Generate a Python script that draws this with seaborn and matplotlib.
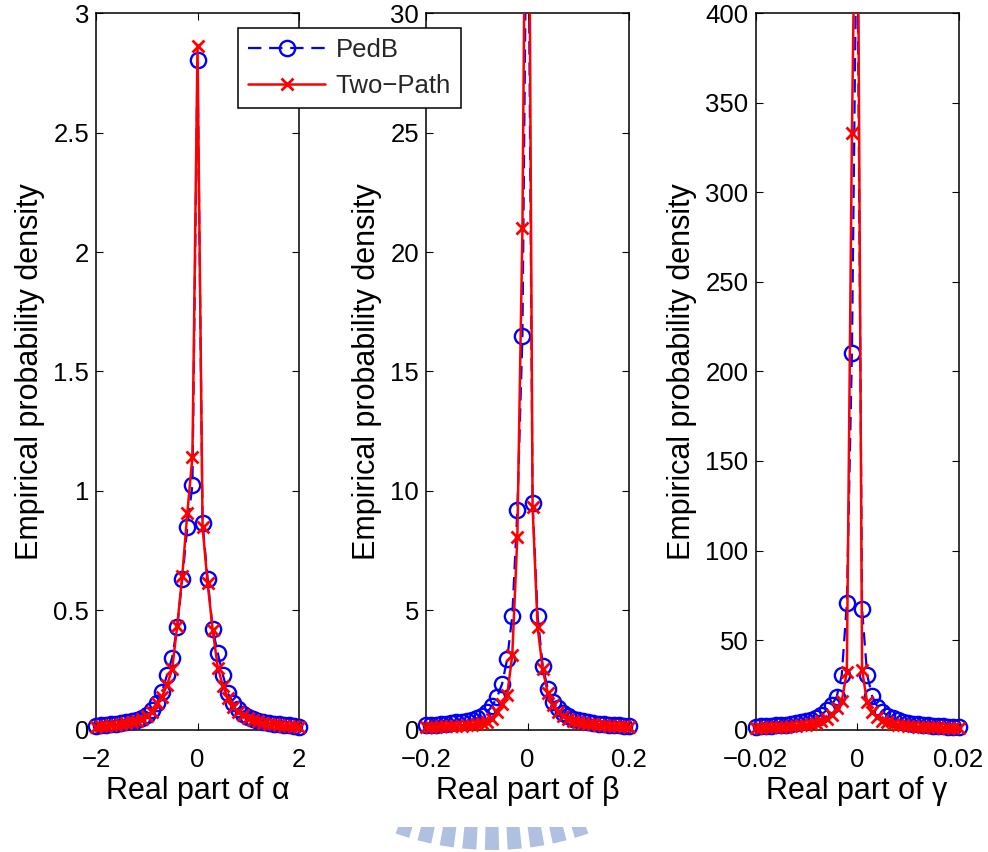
import numpy as np
import pandas as pd
import matplotlib
matplotlib.use("Agg")
import matplotlib.pyplot as plt
from matplotlib.patches import Polygon, Rectangle
from matplotlib.lines import Line2D
from matplotlib.ticker import FuncFormatter, FixedLocator
import seaborn as sns

sns.set_theme(style="white")
plt.rcParams["font.family"] = ["Liberation Sans", "DejaVu Sans"]
plt.rcParams["axes.unicode_minus"] = True

# Histogram bin centres for the three coefficients
alpha_bins = np.linspace(-2.0, 2.0, 41)
beta_bins = np.linspace(-0.2, 0.2, 41)
gamma_bins = np.linspace(-0.02, 0.02, 41)

# Empirical densities, PedB channel
pedb_alpha = [0.016, 0.018, 0.020, 0.022, 0.025, 0.028, 0.032, 0.036, 0.042, 0.050,
              0.062, 0.080, 0.110, 0.159, 0.229, 0.301, 0.431, 0.630, 0.850, 1.025,
              2.805,
              0.864, 0.631, 0.420, 0.320, 0.229, 0.152, 0.110, 0.085, 0.066, 0.053,
              0.044, 0.037, 0.032, 0.028, 0.025, 0.022, 0.020, 0.018, 0.015, 0.010]
pedb_beta = [0.18, 0.20, 0.21, 0.23, 0.25, 0.27, 0.30, 0.33, 0.37, 0.42,
             0.48, 0.58, 0.72, 0.98, 1.36, 1.92, 2.96, 4.76, 9.20, 16.5,
             40.0,
             9.48, 4.76, 2.66, 1.70, 1.17, 0.89, 0.68, 0.55, 0.46, 0.40,
             0.35, 0.31, 0.28, 0.25, 0.23, 0.21, 0.19, 0.18, 0.17, 0.16]
pedb_gamma = [1.6, 1.8, 1.9, 2.1, 2.3, 2.5, 2.8, 3.1, 3.5, 4.0,
              4.6, 5.4, 6.5, 8.2, 10.9, 13.7, 18.4, 30.5, 70.5, 210.5,
              475.0,
              67.2, 30.5, 18.6, 12.8, 10.0, 7.8, 6.3, 5.2, 4.4, 3.8,
              3.3, 2.9, 2.6, 2.3, 2.1, 1.9, 1.8, 1.6, 1.5, 1.3]

# Empirical densities, two-path channel
twopath_alpha = [0.012, 0.014, 0.016, 0.018, 0.020, 0.023, 0.027, 0.032, 0.038, 0.046,
                 0.058, 0.075, 0.110, 0.138, 0.187, 0.253, 0.434, 0.645, 0.909, 1.143,
                 2.861,
                 0.848, 0.612, 0.417, 0.260, 0.183, 0.131, 0.096, 0.075, 0.060, 0.048,
                 0.040, 0.034, 0.029, 0.025, 0.022, 0.019, 0.017, 0.015, 0.013, 0.010]
twopath_beta = [0.10, 0.11, 0.12, 0.13, 0.14, 0.15, 0.16, 0.17, 0.19, 0.21,
                0.24, 0.27, 0.33, 0.45, 0.75, 1.08, 1.45, 3.12, 8.08, 21.0,
                48.0,
                9.34, 4.28, 2.52, 1.52, 1.02, 0.75, 0.56, 0.45, 0.38, 0.32,
                0.28, 0.25, 0.22, 0.20, 0.18, 0.16, 0.15, 0.14, 0.13, 0.12]
twopath_gamma = [1.0, 1.1, 1.2, 1.3, 1.4, 1.5, 1.7, 1.9, 2.1, 2.4,
                 2.8, 3.2, 3.8, 4.6, 5.8, 8.2, 11.9, 16.0, 32.3, 333.0,
                 550.0,
                 33.3, 15.2, 10.0, 7.2, 5.0, 4.0, 3.3, 2.8, 2.4, 2.1,
                 1.9, 1.7, 1.5, 1.4, 1.3, 1.2, 1.1, 1.0, 0.9, 0.8]

series_names = ["PedB", "Two\u2212Path"]
x_labels = ["Real part of \u03b1", "Real part of \u03b2", "Real part of \u03b3"]
y_label = "Empirical probability density"
x_ticks = [[-2, 0, 2], [-0.2, 0, 0.2], [-0.02, 0, 0.02]]
y_ticks = [[0, 0.5, 1, 1.5, 2, 2.5, 3],
           [0, 5, 10, 15, 20, 25, 30],
           [0, 50, 100, 150, 200, 250, 300, 350, 400]]

panels = [
    (alpha_bins, pedb_alpha, twopath_alpha),
    (beta_bins, pedb_beta, twopath_beta),
    (gamma_bins, pedb_gamma, twopath_gamma),
]

W, H = 988, 852
fig = plt.figure(figsize=(W / 100, H / 100), dpi=100)
fig.patch.set_facecolor("white")

ax_left_px = [96, 426, 755.5]
ax_w_px = 203
ax_top_px, ax_bot_px = 13.3, 729.6

tick_fmt = FuncFormatter(lambda v, p: f"{v:g}".replace("-", "\u2212"))

blue_style = dict(color="#0000ff", linestyle=(0, (6, 3.5)), linewidth=1.6,
                  marker="o", markersize=11, markerfacecolor="none",
                  markeredgecolor="#0000ff", markeredgewidth=1.7)
red_style = dict(color="#ff0000", linestyle="-", linewidth=1.8,
                 marker="x", markersize=8.5, markerfacecolor="none",
                 markeredgecolor="#ff0000", markeredgewidth=2.0)

axes = []
for i, (bins, pedb, twop) in enumerate(panels):
    left = ax_left_px[i] / W
    bottom = 1 - ax_bot_px / H
    height = (ax_bot_px - ax_top_px) / H
    ax = fig.add_axes([left, bottom, ax_w_px / W, height])
    axes.append(ax)

    df = pd.DataFrame({"x": bins, "PedB": pedb, "TwoPath": twop})
    sns.lineplot(data=df, x="x", y="PedB", ax=ax, zorder=3, **blue_style)
    sns.lineplot(data=df, x="x", y="TwoPath", ax=ax, zorder=4, **red_style)

    ax.set_xlim(x_ticks[i][0], x_ticks[i][-1])
    ax.set_ylim(y_ticks[i][0], y_ticks[i][-1])

    # let the edge markers spill past the sides and bottom, cut at the top
    for ln in ax.lines:
        ln.set_clip_path(Rectangle((-0.06, -0.06), 1.12, 1.06,
                                   transform=ax.transAxes))

    ax.xaxis.set_major_locator(FixedLocator(x_ticks[i]))
    ax.yaxis.set_major_locator(FixedLocator(y_ticks[i]))
    ax.xaxis.set_major_formatter(tick_fmt)
    ax.yaxis.set_major_formatter(tick_fmt)
    ax.tick_params(axis="both", direction="in", length=5, width=0.8,
                   top=True, right=True, bottom=True, left=True,
                   labelsize=18.5, colors="black")
    ax.tick_params(axis="x", pad=13)
    ax.tick_params(axis="y", pad=5)
    for sp in ax.spines.values():
        sp.set_visible(True)
        sp.set_color("black")
        sp.set_linewidth(1.1)
    ax.set_facecolor("white")
    ax.grid(False)
    ax.set_xlabel(x_labels[i], fontsize=22, color="black", labelpad=3)
    ax.set_ylabel(y_label, fontsize=22, color="black", labelpad=6)

# Legend spanning the first two panels
handles = [Line2D([], [], **blue_style), Line2D([], [], **red_style)]
leg = fig.legend(handles, series_names, loc="upper left",
                 bbox_to_anchor=(238 / W, 1 - 28 / H), bbox_transform=fig.transFigure,
                 fontsize=18.5, frameon=True, fancybox=False, shadow=False,
                 framealpha=1, edgecolor="black", facecolor="white",
                 handlelength=3.0, handletextpad=0.4, borderpad=0.4,
                 labelspacing=0.45, borderaxespad=0)
leg.get_frame().set_linewidth(1.1)

# Faint ring of dashes along the bottom edge of the page
fx, fy = 492.0, 560.0
r_outer = 290.0
y_inner = 827.0
for ang in [-18, -13.5, -9, -4.5, 0, 4.5, 9, 13.5, 18]:
    pts = []
    for a in (ang - 1.4, ang + 1.4):
        t = np.radians(a)
        r_in = (y_inner - fy) / np.cos(t)
        pts.append((fx + r_in * np.sin(t), fy + r_in * np.cos(t)))
    for a in (ang + 1.4, ang - 1.4):
        t = np.radians(a)
        pts.append((fx + r_outer * np.sin(t), fy + r_outer * np.cos(t)))
    pts = [(px / W, 1 - py / H) for px, py in pts]
    fig.patches.append(Polygon(pts, closed=True, transform=fig.transFigure,
                               facecolor="#afc0e0", edgecolor="none", zorder=0))

fig.savefig("out.png", dpi=100, facecolor="white")
